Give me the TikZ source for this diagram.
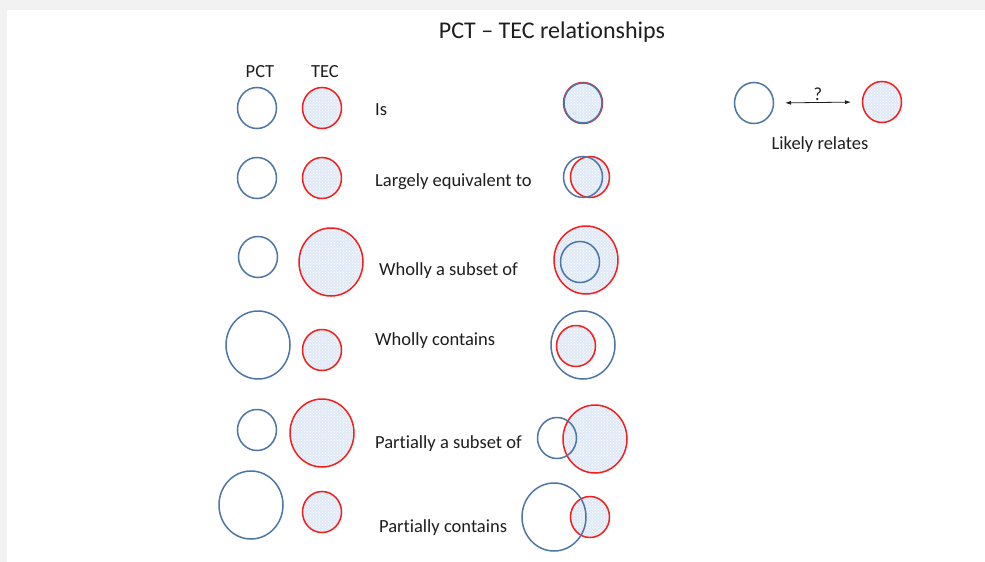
\documentclass[tikz,border=0pt]{standalone}
\usepackage{fontspec}
\setmainfont[Ligatures=NoCommon]{Carlito}
\usetikzlibrary{shapes.geometric,patterns,arrows.meta}
\definecolor{pctblue}{RGB}{76,118,165}
\definecolor{tecred}{RGB}{245,30,30}
\definecolor{tecfill}{RGB}{224,234,247}
\definecolor{slidegray}{RGB}{242,242,242}
\definecolor{ink}{RGB}{30,30,30}
\tikzset{
  pct/.style={ellipse,draw=pctblue,line width=1.5pt,inner sep=0pt},
  tec/.style={ellipse,draw=tecred,line width=1.5pt,inner sep=0pt,
    preaction={fill=tecfill},
    preaction={pattern=crosshatch dots,pattern color=white}},
  small/.style={minimum width=39pt,minimum height=41pt},
  big/.style={minimum width=64pt,minimum height=68pt},
  lbl/.style={text=ink,font=\fontsize{18.5}{22}\selectfont,inner sep=0pt},
}
\begin{document}
\begin{tikzpicture}[x=1pt,y=-1pt]
\fill[slidegray] (0,0) rectangle (985,562);
\fill[white] (7,10) rectangle (985,562);
\useasboundingbox (0,0) rectangle (985,562);

\node[lbl,font=\fontsize{24}{28}\selectfont] (title) at (552,32) {PCT -- TEC relationships};
\node[lbl] (pcthead) at (260,72) {PCT};
\node[lbl] (techead) at (325,72) {TEC};

% the two sets side by side
\node[pct,small] (pct1) at (257,108) {};
\node[tec,small] (tec1) at (322,108) {};
\node[pct,small] (pct2) at (257,178) {};
\node[tec,small] (tec2) at (322,178) {};
\node[pct,small] (pct3) at (258,257) {};
\node[tec,big] (tec3) at (331,262) {};
\node[pct,big] (pct4) at (258,345) {};
\node[tec,small] (tec4) at (322,350) {};
\node[pct,small] (pct5) at (257,430) {};
\node[tec,big] (tec5) at (322,433) {};
\node[pct,big] (pct6) at (251,505) {};
\node[tec,small] (tec6) at (322,512) {};

% relation names
\node[lbl,anchor=mid west] (is) at (375,113) {Is};
\node[lbl,anchor=mid west] (equiv) at (375,184) {Largely equivalent to};
\node[lbl,anchor=mid west] (subset) at (379,273) {Wholly a subset of};
\node[lbl,anchor=mid west] (contains) at (375,343) {Wholly contains};
\node[lbl,anchor=mid west] (psubset) at (375,446) {Partially a subset of};
\node[lbl,anchor=mid west] (pcontains) at (379,530) {Partially contains};

% the sets drawn over each other
\node[tec,small] (tecis) at (583,103) {};
\node[pct,small,minimum width=38pt,minimum height=40pt] (pctis) at (583,103) {};
\node[tec,small] (tecequiv) at (590,177) {};
\node[pct,small] (pctequiv) at (583,177) {};
\node[tec,big] (tecsubset) at (586,260) {};
\node[pct,small] (pctsubset) at (580,262) {};
\node[pct,big] (pctcontains) at (583,345) {};
\node[tec,small] (teccontains) at (576,346) {};
\node[tec,big] (tecpsubset) at (595,439) {};
\node[pct,small] (pctpsubset) at (557,438) {};
\node[tec,small] (tecpcontains) at (590,517) {};
\node[pct,big] (pctpcontains) at (554,517) {};

% key
\node[pct,small] (pctkey) at (754,103) {};
\node[tec,small] (teckey) at (882,102) {};
\draw[{Latex[length=6pt,width=4pt]}-{Latex[length=6pt,width=4pt]},line width=0.8pt,ink,shorten <=11pt,shorten >=11pt] (pctkey.center) ++(20,0) coordinate (keyl) (teckey.center) ++(-20,0) coordinate (keyr) (keyl) -- (keyr);
\node[lbl] (query) at (818,94) {?};
\node[lbl] (likely) at (820,145) {Likely relates};
\end{tikzpicture}
\end{document}
